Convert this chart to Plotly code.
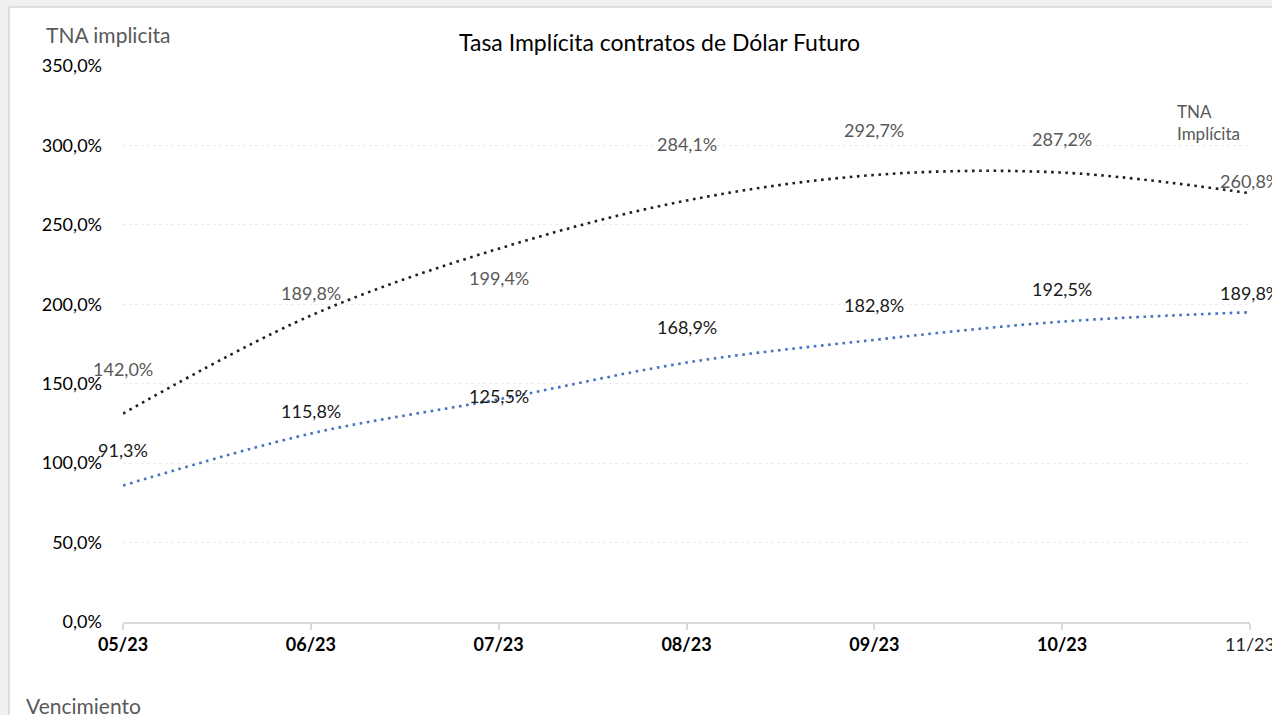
import plotly.graph_objects as go

# ---- data ----
categories = ["05/23", "06/23", "07/23", "08/23", "09/23", "10/23", "11/23"]
tna_labels = [142.0, 189.8, 199.4, 284.1, 292.7, 287.2, 260.8]       # black series values
tna2_labels = [91.3, 115.8, 125.5, 168.9, 182.8, 192.5, 189.8]       # blue series values
tna_trend = [131.2, 192.9, 235.0, 265.3, 281.4, 282.9, 269.9]        # dotted trendline (black)
tna2_trend = [85.9, 118.6, 140.2, 163.3, 177.6, 189.1, 195.0]        # dotted trendline (blue)
y_ticks = [0, 50, 100, 150, 200, 250, 300, 350]

W, H = 1272, 715
L, R, T, B = 123, 22, 66, 93
PW, PH = W - L - R, H - T - B

def px_x(p):
    return (p - L) / PW

def px_y(p):
    return (H - B - p) / PH

def fmt(v):
    return f"{v:.1f}%".replace(".", ",")

FONT = "Lato, 'Open Sans', sans-serif"

fig = go.Figure()
fig.add_trace(go.Scatter(x=categories, y=tna_trend, mode="lines", name="TNA Implícita",
                         line=dict(color="#1f1f1f", width=2.6, dash="2.6px,4.6px", shape="spline"),
                         hoverinfo="skip", showlegend=False))
fig.add_trace(go.Scatter(x=categories, y=tna2_trend, mode="lines", name="TNA Implícita 2",
                         line=dict(color="#4472C4", width=2.6, dash="2.6px,4.6px", shape="spline"),
                         hoverinfo="skip", showlegend=False))

annotations = []
for c, v in zip(categories, tna_labels):
    annotations.append(dict(x=c, y=v, xref="x", yref="y", text=fmt(v), showarrow=False,
                            yshift=27, font=dict(family=FONT, size=18, color="#595959")))
for c, v in zip(categories, tna2_labels):
    annotations.append(dict(x=c, y=v, xref="x", yref="y", text=fmt(v), showarrow=False,
                            yshift=27, font=dict(family=FONT, size=18, color="#1a1a1a")))

annotations += [
    dict(text="TNA implicita", xref="paper", yref="paper", x=px_x(44), y=px_y(35),
         xanchor="left", yanchor="middle", showarrow=False,
         font=dict(family=FONT, size=21, color="#595959")),
    dict(text="Vencimiento", xref="paper", yref="paper", x=px_x(24), y=px_y(705),
         xanchor="left", yanchor="middle", showarrow=False,
         font=dict(family=FONT, size=21, color="#595959")),
    dict(text="TNA<br>Implícita", xref="paper", yref="paper", x=px_x(1175), y=px_y(122),
         xanchor="left", yanchor="middle", align="left", showarrow=False,
         font=dict(family=FONT, size=17, color="#595959")),
    dict(text="Tasa Implícita contratos de Dólar Futuro", xref="paper", yref="paper",
         x=px_x(659), y=px_y(42), xanchor="center", yanchor="middle", showarrow=False,
         font=dict(family=FONT, size=23, color="#000000")),
]

ticktext = [f"<b>{c}</b>" for c in categories[:-1]] + [f"<span style='color:#262626'>{categories[-1]}</span>"]
ytext = [fmt(v) for v in y_ticks]

fig.update_layout(
    width=W, height=H,
    margin=dict(l=L, r=R, t=T, b=B, autoexpand=False),
    paper_bgcolor="#f0f0f0",
    plot_bgcolor="rgba(0,0,0,0)",
    showlegend=False,
    annotations=annotations,
    shapes=[dict(type="rect", xref="paper", yref="paper", layer="below",
                 x0=px_x(9), x1=px_x(1400), y0=px_y(800), y1=px_y(7),
                 fillcolor="#ffffff", line=dict(color="#d6d6d6", width=1.5))],
    xaxis=dict(type="category", range=[0, 6], showgrid=False, zeroline=False,
               showline=True, linecolor="#d9d9d9", linewidth=1.5,
               ticks="outside", ticklen=6, tickcolor="#d9d9d9", tickwidth=1.5,
               tickvals=categories, ticktext=ticktext,
               tickfont=dict(family=FONT, size=18, color="#000000")),
    yaxis=dict(range=[0, 350], tickvals=y_ticks, ticktext=ytext,
               showgrid=True, gridcolor="#ececec", griddash="dot", gridwidth=1,
               zeroline=False, showline=False, ticks="", ticklabelstandoff=20,
               tickfont=dict(family=FONT, size=18, color="#000000")),
)

fig.write_html("out.html", config={"displayModeBar": False},
               post_script="document.body.style.margin='0';document.body.style.overflow='hidden';")
